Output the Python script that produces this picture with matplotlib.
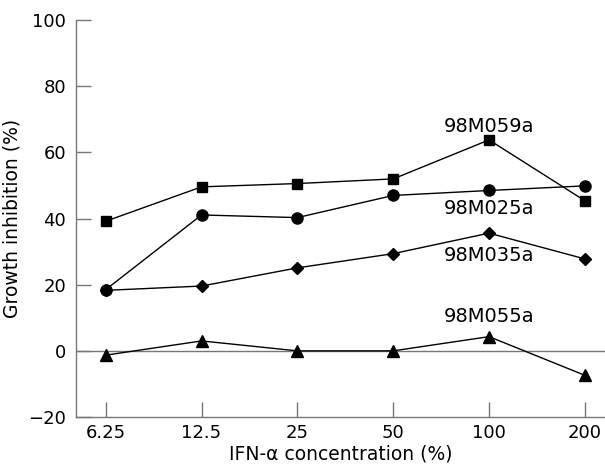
import matplotlib
matplotlib.use('Agg')
import matplotlib.pyplot as plt

# IFN-alpha concentration categories (%)
conc_labels = ['6.25', '12.5', '25', '50', '100', '200']

# growth inhibition (%) per cell line
m059a = [39.2, 49.6, 50.6, 52.0, 63.8, 45.4]
m025a = [18.5, 41.1, 40.3, 47.0, 48.5, 49.9]
m035a = [18.3, 19.6, 25.1, 29.4, 35.6, 27.8]
m055a = [-1.3, 3.0, 0.0, 0.0, 4.3, -7.4]

series_names = ['98M059a', '98M025a', '98M035a', '98M055a']
label_y = [68.0, 43.0, 28.8, 10.4]

x = list(range(len(conc_labels)))

fig = plt.figure(figsize=(6.05, 4.7), dpi=100)
ax = fig.add_axes([0.1256, 0.1128, 0.8744, 0.8442])

ax.axhline(0, color='#777777', lw=1.0, zorder=1)

ax.plot(x, m059a, c='black', lw=1, marker='s', ms=7.5, zorder=3)
ax.plot(x, m025a, c='black', lw=1, marker='o', ms=8, zorder=3)
ax.plot(x, m035a, c='black', lw=1, marker='D', ms=6, zorder=3)
ax.plot(x, m055a, c='black', lw=1, marker='^', ms=8, zorder=3)

for name, ly in zip(series_names, label_y):
    ax.text(4, ly, name, ha='center', va='center', fontsize=14)

ax.set_xlim(-0.31, 5.21)
ax.set_ylim(-20, 100)
ax.set_xticks(x)
ax.set_xticklabels(conc_labels)
ax.set_yticks([-20, 0, 20, 40, 60, 80, 100])
ax.set_yticklabels(['\u221220', '0', '20', '40', '60', '80', '100'])

for s in ['top', 'right']:
    ax.spines[s].set_visible(False)
for s in ['left', 'bottom']:
    ax.spines[s].set_color('#777777')
    ax.spines[s].set_linewidth(1.0)

ax.tick_params(axis='both', direction='in', length=11, width=1,
               color='#777777', labelsize=13, pad=5)
ax.tick_params(axis='y', pad=7)

ax.set_xlabel('IFN-\u03b1 concentration (%)', fontsize=13.5, labelpad=2)
ax.set_ylabel('Growth inhibition (%)', fontsize=13.5, labelpad=5)

fig.savefig('out.png', dpi=100)
